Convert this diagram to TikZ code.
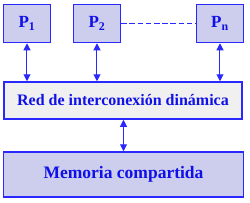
\documentclass[tikz,border=0pt]{standalone}
\usepackage{fontspec}
\setmainfont{Liberation Serif}
\usepackage{xcolor}
\usepackage{tikz}
\usetikzlibrary{arrows.meta,positioning}

\definecolor{boxblue}{HTML}{2828FF}
\definecolor{txtblue}{HTML}{1010E8}
\definecolor{procfill}{HTML}{CDCDEE}
\definecolor{redfill}{HTML}{F0F0F0}

\begin{document}
\begin{tikzpicture}[x=1pt,y=-1pt,font=\bfseries\color{txtblue},
    procbox/.style={draw=boxblue,line width=1.5pt,fill=procfill,minimum width=47pt,minimum height=38pt,inner sep=0pt,font=\fontsize{17}{19}\selectfont\bfseries\color{txtblue}},
    bigbox/.style={draw=boxblue,line width=1.5pt,inner sep=0pt},
    link/.style={draw=boxblue,line width=1pt,{Triangle[length=7pt,width=7pt]}-{Triangle[length=7pt,width=7pt]}}]
    \useasboundingbox (0,0) rectangle (250,202);
    \foreach \name/\sub/\x in {p1/1/27,p2/2/97,pn/n/220} {
      \node[procbox] (\name) at (\x,23.5) {P\textsubscript{\sub}};
    }
    \node[bigbox,fill=redfill,minimum width=238pt,minimum height=37pt,font=\fontsize{16}{18}\selectfont\bfseries\color{txtblue}] (red) at (123,100.5) {Red de interconexión dinámica};
    \node[bigbox,fill=procfill,minimum width=240pt,minimum height=45pt,font=\fontsize{17.5}{20}\selectfont\bfseries\color{txtblue}] (mem) at (123.5,174.5) {Memoria compartida};
    \draw[boxblue,line width=1pt,dash pattern=on 5.5pt off 2.7pt] (p2.east) -- (pn.west);
    \foreach \name in {p1,p2,pn} {
      \draw[link] (\name.south) -- (\name.south |- red.north);
    }
    \draw[link] (red.south -| mem.north) -- (mem.north);
  \end{tikzpicture}
\end{document}
